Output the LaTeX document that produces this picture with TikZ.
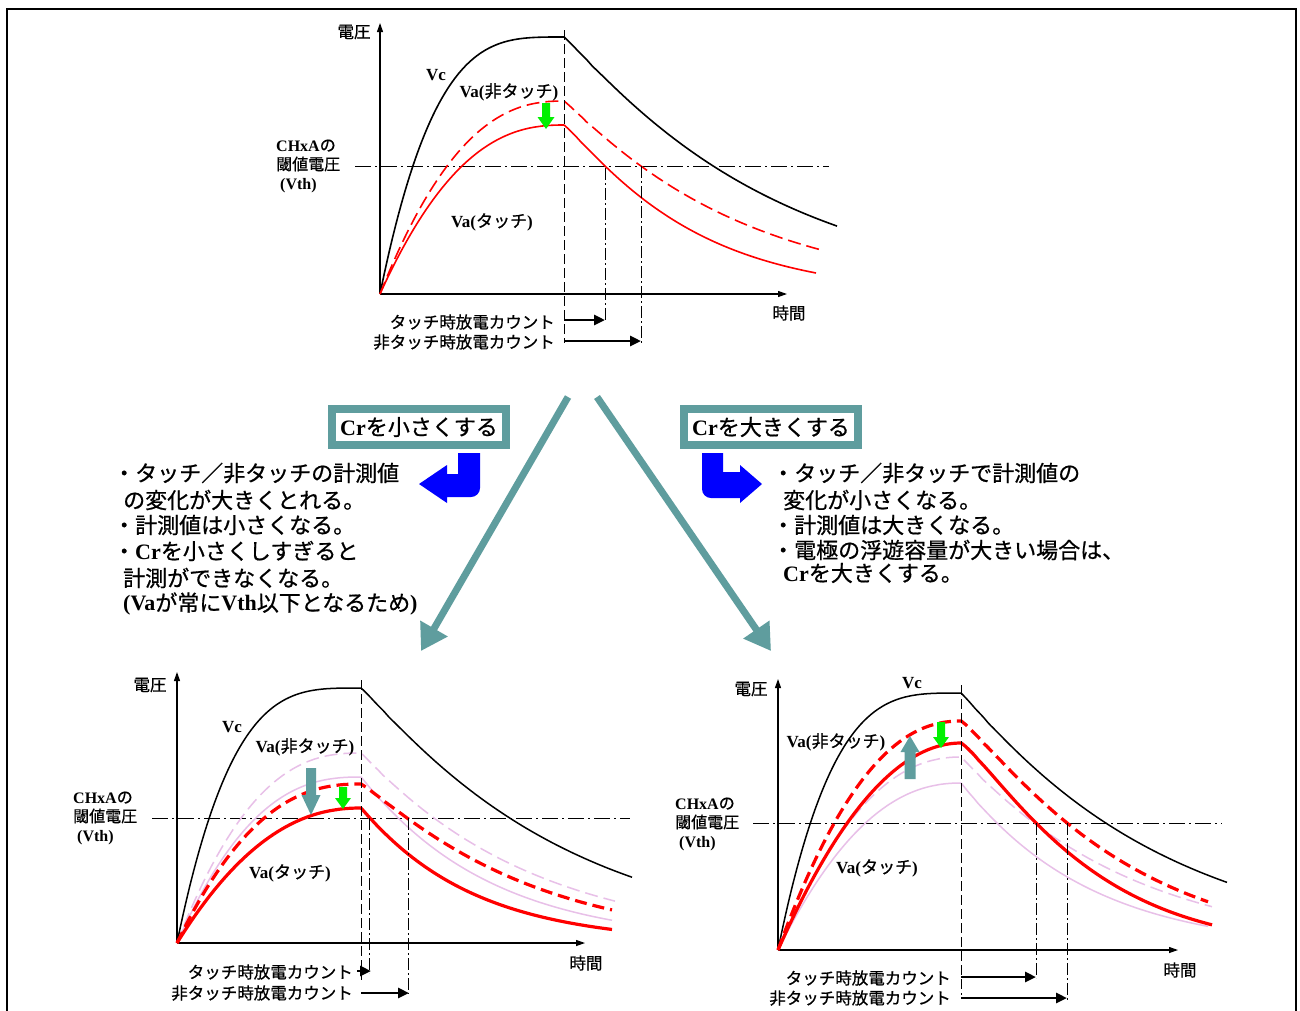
\documentclass[tikz,border=0pt]{standalone}
\usepackage{fontspec}
\setmainfont{Liberation Serif}
\newfontfamily\jp{Noto Sans CJK JP}[FakeBold=0.7]
\usetikzlibrary{arrows.meta}
\definecolor{tealc}{RGB}{95,157,158}
\definecolor{palec}{RGB}{232,192,232}
\definecolor{greenc}{RGB}{0,240,0}
\definecolor{bluec}{RGB}{0,0,255}
\definecolor{redc}{RGB}{255,0,0}
\newcommand\J[1]{{\mdseries\jp #1}}
% x0, y0, xpeak, xend, height, rise exponent, decay tau, decay power, style
\newcommand\vcurve[9]{%
  \pgfmathsetmacro\dend{#4-#3}%
  \draw[#9] plot[domain=0:0.999,samples=60,smooth] ({#1+\x*(#3-#1)},{#2-#5*(1-(1-\x)^#6)})
    -- plot[domain=0.5:\dend,samples=60,smooth] ({#3+\x},{#2-#5*exp(-((\x/#7)^#8))});}
% x, ytail, ytip, shaft width, head width, signed head length, colour
\newcommand\blockarr[7]{%
  \fill[#7] ({#1-#4/2},#2) -- ({#1-#4/2},{#3-(#6)}) -- ({#1-#5/2},{#3-(#6)}) -- (#1,#3)
    -- ({#1+#5/2},{#3-(#6)}) -- ({#1+#4/2},{#3-(#6)}) -- ({#1+#4/2},#2) -- cycle;}
\begin{document}
\begin{tikzpicture}[x=1pt,y=-1pt,
  axis/.style={line width=1.1pt,-{Triangle[length=9pt,width=6pt]}},
  peakln/.style={line width=1pt,dash pattern=on 10pt off 4pt},
  vthln/.style={line width=1pt,dash pattern=on 16pt off 4pt on 2pt off 4pt},
  cntln/.style={line width=0.9pt,dash pattern=on 12pt off 3pt on 2pt off 3pt},
  cntarr/.style={line width=2.8pt,-{Triangle[length=11pt,width=10pt]}},
  lbl/.style={inner sep=0pt,font=\fontsize{17}{19}\selectfont\bfseries},
  jlbl/.style={inner sep=0pt,font=\fontsize{16.5}{19}\selectfont\jp},
  thlbl/.style={inner sep=0pt,align=left,anchor=west,font=\fontsize{16}{19}\selectfont\bfseries},
  btxt/.style={inner sep=0pt,anchor=west,font=\fontsize{22}{26}\selectfont\bfseries},
  crbox/.style={draw=tealc,line width=8pt,fill=white,minimum width=174pt,minimum height=36pt,inner sep=0pt,font=\fontsize{22}{26}\selectfont\bfseries},
  bigarr/.style={draw=tealc,line width=7pt,-{Triangle[length=26pt,width=30pt]}},
  vcln/.style={line width=1.6pt},
  redthin/.style={draw=redc,line width=1.6pt},
  redthick/.style={draw=redc,line width=3.2pt},
  paleln/.style={draw=palec,line width=1.5pt},
  dsh/.style={dash pattern=on 13pt off 6pt}
]
\useasboundingbox (0,0) rectangle (1300,1010);
\fill[white] (0,0) rectangle (1300,1010);
\draw[line width=2pt] (7,1012) -- (7,9) -- (1296,9) -- (1296,1012);

% ================= top graph =================
\coordinate (o1) at (380,294);
\coordinate (y1) at (380,23);
\coordinate (x1) at (787,294);
\draw[axis] (o1) -- (y1);
\draw[axis] (o1) -- (x1);
\coordinate (th1a) at (355,166); \coordinate (th1b) at (829,166);
\draw[vthln] (th1a) -- (th1b);
\vcurve{380}{294}{564}{837}{257}{3.5}{209}{1.07}{vcln}
\vcurve{380}{294}{564}{822}{193}{2.4}{178}{1.06}{redthin,dsh}
\vcurve{380}{294}{564}{816}{169}{2.4}{130}{1.11}{redthin}
\coordinate (p1a) at (564,30); \coordinate (p1b) at (564,343);
\draw[peakln] (p1a) -- (p1b);
\coordinate (k1a) at (605,168); \coordinate (k1b) at (605,321);
\coordinate (k2a) at (641,166); \coordinate (k2b) at (641,343);
\draw[cntln] (k1a) -- (k1b);
\draw[cntln] (k2a) -- (k2b);
\coordinate (a1s) at (564,320); \coordinate (a1e) at (605,320);
\coordinate (a2s) at (564,341); \coordinate (a2e) at (641,341);
\draw[cntarr] (a1s) -- (a1e);
\draw[cntarr] (a2s) -- (a2e);
\blockarr{546}{103}{129}{8}{17}{12}{greenc}
\node[jlbl] (v1) at (354,32) {電圧};
\node[jlbl] (t1) at (789,313) {時間};
\node[lbl] (vc1) at (436,75) {Vc};
\node[lbl] (vn1) at (509,92) {Va(\J{非タッチ})};
\node[lbl] (vt1) at (492,222) {Va(\J{タッチ})};
\node[thlbl] (th1) at (276,166) {CHxA\J{の}\\\J{閾値電圧}\\\hspace{4pt}(Vth)};
\node[jlbl,anchor=east] (c1a) at (555,322) {タッチ時放電カウント};
\node[jlbl,anchor=east] (c1b) at (555,342) {非タッチ時放電カウント};

% ================= middle =================
\node[crbox] (bs) at (419,427) {Cr\J{を小さくする}};
\node[crbox] (bb) at (771,427) {Cr\J{を大きくする}};
\coordinate (aL0) at (568,397); \coordinate (aL1) at (421,651);
\coordinate (aR0) at (597,397); \coordinate (aR1) at (771,651);
\draw[bigarr] (aL0) -- (aL1);
\draw[bigarr] (aR0) -- (aR1);
% blue bent arrows
\fill[bluec] (458,453) -- (480,453) -- (480,470) [rounded corners=9pt] -- (480,497) -- (462,497)
  [sharp corners] -- (447,497) -- (447,503) -- (419,484) -- (447,465) -- (447,474) -- (458,474) -- cycle;
\fill[bluec] (723,453) -- (702,453) -- (702,470) [rounded corners=9pt] -- (702,498) -- (720,498)
  [sharp corners] -- (740,498) -- (740,503) -- (762,484) -- (740,465) -- (740,472) -- (723,472) -- cycle;
% left text
\node[btxt] (l1) at (113,473) {\J{・タッチ／非タッチの計測値}};
\node[btxt] (l2) at (123,500) {\J{の変化が大きくとれる。}};
\node[btxt] (l3) at (113,525) {\J{・計測値は小さくなる。}};
\node[btxt] (l4) at (113,551) {\J{・}Cr\J{を小さくしすぎると}};
\node[btxt] (l5) at (123,578) {\J{計測ができなくなる。}};
\node[btxt] (l6) at (123,604) {(Va\J{が常に}Vth\J{以下となるため})};
% right text
\node[btxt] (r1) at (772,473) {\J{・タッチ／非タッチで計測値の}};
\node[btxt] (r2) at (783,500) {\J{変化が小さくなる。}};
\node[btxt] (r3) at (772,525) {\J{・計測値は大きくなる。}};
\node[btxt] (r4) at (772,550) {\J{・電極の浮遊容量が大きい場合は、}};
\node[btxt] (r5) at (783,573) {Cr\J{を大きくする。}};

% ================= bottom-left graph =================
\coordinate (o2) at (177,943);
\coordinate (y2) at (177,672);
\coordinate (x2) at (585,943);
\draw[axis] (o2) -- (y2);
\draw[axis] (o2) -- (x2);
\coordinate (th2a) at (152,818); \coordinate (th2b) at (630,818);
\draw[vthln] (th2a) -- (th2b);
\vcurve{177}{943}{361}{615}{190}{2.5}{170}{1.03}{paleln,dsh}
\vcurve{177}{943}{361}{612}{166}{2.5}{128}{1.02}{paleln}
\vcurve{177}{943}{361}{632}{255}{3.5}{204}{1.07}{line width=1.5pt}
\vcurve{177}{943}{361}{612}{159}{2.4}{167}{1.106}{redthick,dash pattern=on 12pt off 6pt}
\vcurve{177}{943}{361}{612}{135}{2.2}{111}{1.02}{redthick}
\coordinate (p2a) at (361,680); \coordinate (p2b) at (361,980);
\draw[peakln] (p2a) -- (p2b);
\coordinate (k3a) at (369,818); \coordinate (k3b) at (369,973);
\coordinate (k4a) at (408,818); \coordinate (k4b) at (408,994);
\draw[cntln] (k3a) -- (k3b);
\draw[cntln] (k4a) -- (k4b);
\coordinate (a3s) at (357,971); \coordinate (a3e) at (371,971);
\coordinate (a4s) at (361,993); \coordinate (a4e) at (409,993);
\draw[cntarr] (a3s) -- (a3e);
\draw[cntarr] (a4s) -- (a4e);
\blockarr{311}{768}{815}{10}{19}{20}{tealc}
\blockarr{343}{787}{809}{8}{16}{11}{greenc}
\node[jlbl] (v2) at (150,685) {電圧};
\node[jlbl] (t2) at (586,963) {時間};
\node[lbl] (vc2) at (232,727) {Vc};
\node[lbl] (vn2) at (305,747) {Va(\J{非タッチ})};
\node[lbl] (vt2) at (290,873) {Va(\J{タッチ})};
\node[thlbl] (th2) at (73,818) {CHxA\J{の}\\\J{閾値電圧}\\\hspace{4pt}(Vth)};
\node[jlbl,anchor=east] (c2a) at (353,972) {タッチ時放電カウント};
\node[jlbl,anchor=east] (c2b) at (353,993) {非タッチ時放電カウント};

% ================= bottom-right graph =================
\coordinate (o3) at (778,950);
\coordinate (y3) at (778,679);
\coordinate (x3) at (1178,950);
\draw[axis] (o3) -- (y3);
\draw[axis] (o3) -- (x3);
\coordinate (th3a) at (753,823); \coordinate (th3b) at (1222,823);
\draw[vthln] (th3a) -- (th3b);
\vcurve{778}{950}{961}{1212}{193}{2.2}{170}{1.03}{paleln,dsh}
\vcurve{778}{950}{961}{1208}{167}{2.2}{128}{1.02}{paleln}
\vcurve{778}{950}{961}{1227}{257}{3.5}{202}{1.05}{line width=1.5pt}
\vcurve{778}{950}{961}{1208}{229}{2.2}{168}{1.15}{redthick,dash pattern=on 12pt off 6pt}
\vcurve{778}{950}{961}{1212}{207}{2}{135.6}{1.21}{redthick}
\coordinate (p3a) at (961,685); \coordinate (p3b) at (961,995);
\draw[peakln] (p3a) -- (p3b);
\coordinate (k5a) at (1036,823); \coordinate (k5b) at (1036,978);
\coordinate (k6a) at (1067,823); \coordinate (k6b) at (1067,1000);
\draw[cntln] (k5a) -- (k5b);
\draw[cntln] (k6a) -- (k6b);
\coordinate (a5s) at (961,977); \coordinate (a5e) at (1036,977);
\coordinate (a6s) at (961,998); \coordinate (a6e) at (1067,998);
\draw[cntarr] (a5s) -- (a5e);
\draw[cntarr] (a6s) -- (a6e);
\blockarr{910}{779}{736}{11}{19}{-16}{tealc}
\blockarr{941}{722}{748}{8}{16}{11}{greenc}
\node[jlbl] (v3) at (751,689) {電圧};
\node[jlbl] (t3) at (1180,970) {時間};
\node[lbl] (vc3) at (912,683) {Vc};
\node[lbl] (vn3) at (836,742) {Va(\J{非タッチ})};
\node[lbl] (vt3) at (877,868) {Va(\J{タッチ})};
\node[thlbl] (th3) at (675,824) {CHxA\J{の}\\\J{閾値電圧}\\\hspace{4pt}(Vth)};
\node[jlbl,anchor=east] (c3a) at (951,978) {タッチ時放電カウント};
\node[jlbl,anchor=east] (c3b) at (951,998) {非タッチ時放電カウント};
\end{tikzpicture}
\end{document}
